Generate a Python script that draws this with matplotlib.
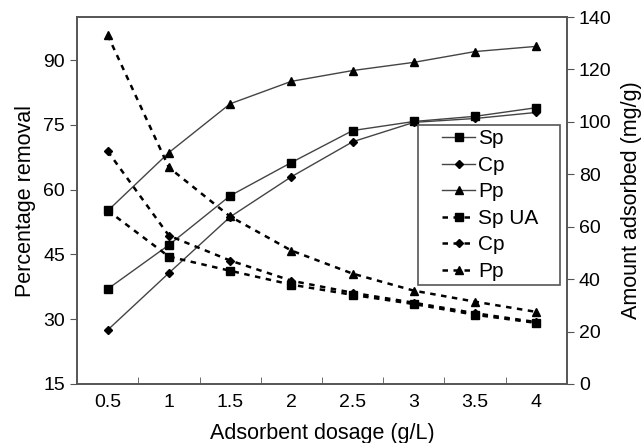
import numpy as np
import matplotlib.pyplot as plt
from matplotlib.patches import Rectangle

plt.rcParams['font.family'] = ['Liberation Sans', 'DejaVu Sans']

# data
dosage = ['0.5', '1', '1.5', '2', '2.5', '3', '3.5', '4']
sp_removal = [37.0, 47.2, 58.6, 66.3, 73.7, 75.8, 77.0, 79.0]
cp_removal = [27.5, 40.7, 53.7, 63.0, 71.1, 75.6, 76.5, 77.9]
pp_removal = [55.1, 68.6, 79.9, 85.1, 87.6, 89.5, 92.0, 93.2]
sp_uptake = [66.2, 48.6, 43.2, 37.9, 34.0, 30.5, 26.4, 23.3]
cp_uptake = [88.8, 56.6, 47.1, 39.4, 34.8, 31.0, 27.0, 23.6]
pp_uptake = [133.1, 82.6, 63.9, 50.9, 42.1, 35.6, 31.4, 27.5]

x = np.arange(len(dosage))
grey = '#555555'

fig = plt.figure(figsize=(6.44, 4.43), dpi=100)
ax = fig.add_axes([0.1196, 0.1332, 0.7608, 0.8284])
ax2 = ax.twinx()

solid = dict(color='#444444', lw=1.0, markerfacecolor='black', markeredgecolor='black')
dash = dict(color='black', lw=1.8, ls=(0, (2.2, 2.2)), markerfacecolor='black', markeredgecolor='black')

h1, = ax.plot(x, sp_removal, marker='s', ms=6, label='Sp', **solid)
h2, = ax.plot(x, cp_removal, marker='D', ms=4.5, label='Cp', **solid)
h3, = ax.plot(x, pp_removal, marker='^', ms=6, label='Pp', **solid)
h4, = ax2.plot(x, sp_uptake, marker='s', ms=6, label='Sp UA', **dash)
h5, = ax2.plot(x, cp_uptake, marker='D', ms=4.5, label='Cp', **dash)
h6, = ax2.plot(x, pp_uptake, marker='^', ms=6, label='Pp', **dash)

ax.set_xlim(-0.5, 7.5)
ax.set_ylim(15, 100)
ax2.set_ylim(0, 140)

ax.set_yticks([15, 30, 45, 60, 75, 90])
ax2.set_yticks(np.arange(0, 141, 20))

# category style x axis: labels at points, ticks between them
ax.set_xticks(x)
ax.set_xticklabels(dosage)
ax.tick_params(axis='x', length=0, labelsize=14, pad=7)
ax.set_xticks(x[:-1] + 0.5, minor=True)
ax.tick_params(axis='x', which='minor', direction='in', length=5, color=grey)
ax.tick_params(axis='y', direction='out', length=5, color=grey, labelsize=14)
ax2.tick_params(axis='y', direction='out', length=5, color=grey, labelsize=14)

for a in (ax, ax2):
    for s in a.spines.values():
        s.set_color(grey)
        s.set_linewidth(1.2)

ax.set_xlabel('Adsorbent dosage (g/L)', fontsize=15.5, labelpad=9)
ax.set_ylabel('Percentage removal', fontsize=15.5, labelpad=5)
ax2.set_ylabel('Amount adsorbed (mg/g)', fontsize=15.5, labelpad=7)

# legend box drawn separately so it can be wider than its content
ax2.add_patch(Rectangle((0.696, 0.270), 0.290, 0.436, transform=ax2.transAxes,
                        facecolor='white', edgecolor=grey, lw=1.2, zorder=4))
leg = ax2.legend(handles=[h1, h2, h3, h4, h5, h6], loc='upper left',
                 bbox_to_anchor=(0.745, 0.694), fontsize=15, frameon=False,
                 borderpad=0, labelspacing=0.36, handlelength=1.6,
                 handletextpad=0.15, borderaxespad=0)
leg.set_zorder(5)

fig.savefig('out.png', dpi=100)
